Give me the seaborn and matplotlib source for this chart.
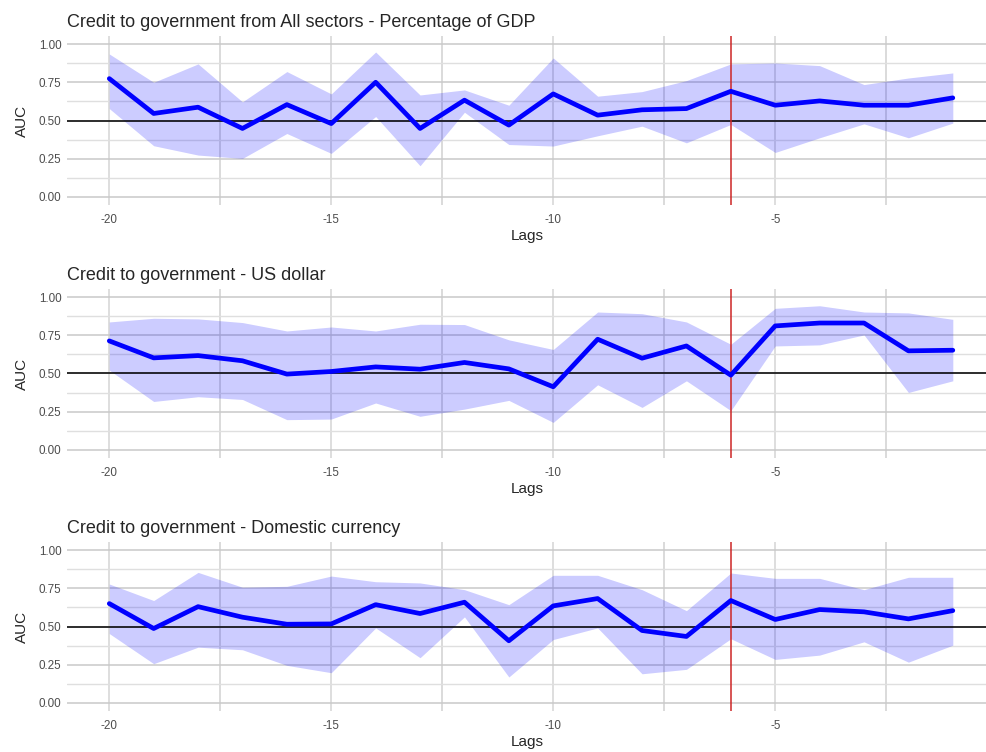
import matplotlib
matplotlib.use("Agg")
import matplotlib.pyplot as plt
import numpy as np
import pandas as pd
import seaborn as sns

sns.set_theme(style="white")
plt.rcParams['font.family'] = ['Liberation Sans', 'DejaVu Sans']

lags = list(range(-20, 0))
titles = ["Credit to government from All sectors - Percentage of GDP",
          "Credit to government - US dollar",
          "Credit to government - Domestic currency"]

# panel 1: percentage of GDP
auc1 = [0.774, 0.546, 0.587, 0.448, 0.604, 0.480, 0.750, 0.448, 0.633, 0.470,
        0.674, 0.535, 0.570, 0.578, 0.691, 0.600, 0.628, 0.600, 0.600, 0.648]
hi1 = [0.935, 0.750, 0.870, 0.622, 0.820, 0.674, 0.948, 0.667, 0.700, 0.600,
       0.909, 0.659, 0.689, 0.761, 0.870, 0.876, 0.859, 0.735, 0.778, 0.811]
lo1 = [0.578, 0.335, 0.274, 0.252, 0.415, 0.285, 0.526, 0.204, 0.554, 0.343,
       0.333, 0.400, 0.463, 0.354, 0.474, 0.291, 0.387, 0.478, 0.387, 0.483]

# panel 2: US dollar
auc2 = [0.713, 0.602, 0.617, 0.583, 0.496, 0.513, 0.543, 0.528, 0.572, 0.530,
        0.413, 0.724, 0.600, 0.680, 0.489, 0.811, 0.830, 0.830, 0.648, 0.652]
hi2 = [0.837, 0.861, 0.857, 0.833, 0.778, 0.804, 0.778, 0.822, 0.820, 0.720,
       0.657, 0.902, 0.891, 0.837, 0.691, 0.926, 0.943, 0.902, 0.896, 0.854]
lo2 = [0.522, 0.317, 0.348, 0.330, 0.198, 0.202, 0.307, 0.220, 0.267, 0.324,
       0.180, 0.426, 0.278, 0.452, 0.257, 0.680, 0.687, 0.752, 0.376, 0.452]

# panel 3: domestic currency
auc3 = [0.650, 0.487, 0.630, 0.561, 0.515, 0.517, 0.643, 0.585, 0.659, 0.407,
        0.635, 0.683, 0.474, 0.435, 0.670, 0.546, 0.611, 0.596, 0.550, 0.604]
hi3 = [0.778, 0.670, 0.854, 0.757, 0.763, 0.830, 0.793, 0.785, 0.741, 0.643,
       0.835, 0.835, 0.741, 0.604, 0.850, 0.815, 0.815, 0.741, 0.822, 0.822]
lo3 = [0.454, 0.257, 0.365, 0.348, 0.246, 0.198, 0.491, 0.296, 0.563, 0.170,
       0.415, 0.491, 0.191, 0.220, 0.420, 0.285, 0.313, 0.400, 0.267, 0.378]

crisis_lag = -6
panels = [(auc1, lo1, hi1), (auc2, lo2, hi2), (auc3, lo3, hi3)]

fig = plt.figure(figsize=(9.87, 7.52), dpi=100)
tops = [0.9516, 0.6152, 0.2787]
h = 0.2237

for i, (auc, lo, hi) in enumerate(panels):
    ax = fig.add_axes([0.068, tops[i] - h, 0.932, h])
    df = pd.DataFrame({"lag": lags, "auc": auc, "lo": lo, "hi": hi})

    ax.fill_between(df["lag"], df["lo"], df["hi"], color="blue", alpha=0.2, lw=0, zorder=2)
    sns.lineplot(data=df, x="lag", y="auc", ax=ax, color="blue", lw=3.4, zorder=4)
    ax.axhline(0.5, color="black", lw=1.1, zorder=3)
    ax.axvline(crisis_lag, color="#cd2626", lw=1.1, zorder=3)

    ax.set_xlim(-20.95, -0.23)
    ax.set_ylim(-0.05, 1.05)
    ax.set_xticks([-20, -15, -10, -5])
    ax.set_xticklabels(["-20", "-15", "-10", "-5"])
    ax.set_xticks([-17.5, -12.5, -7.5, -2.5], minor=True)
    ax.set_yticks([0, 0.25, 0.5, 0.75, 1.0])
    ax.set_yticklabels(["0.00", "0.25", "0.50", "0.75", "1.00"])
    ax.set_yticks([0.125, 0.375, 0.625, 0.875], minor=True)

    ax.grid(True, which="major", axis="y", color="#c9c9c9", lw=1.1, zorder=0)
    ax.grid(True, which="minor", axis="y", color="#dfdfdf", lw=1.0, zorder=0)
    ax.grid(True, which="major", axis="x", color="#dedede", lw=1.4, zorder=0)
    ax.grid(True, which="minor", axis="x", color="#d4d4d4", lw=1.2, zorder=0)
    ax.set_axisbelow(True)

    ax.tick_params(which="both", length=0, labelsize=8.4, labelcolor="#4d4d4d")
    ax.tick_params(axis="x", pad=7)
    ax.tick_params(axis="y", pad=4)
    for s in ax.spines.values():
        s.set_visible(False)

    ax.set_xlabel("Lags", fontsize=11, labelpad=2)
    ax.set_ylabel("AUC", fontsize=11, labelpad=7)
    ax.set_title(titles[i], loc="left", fontsize=13, pad=7)

fig.savefig("out.png", dpi=100, facecolor="white")
